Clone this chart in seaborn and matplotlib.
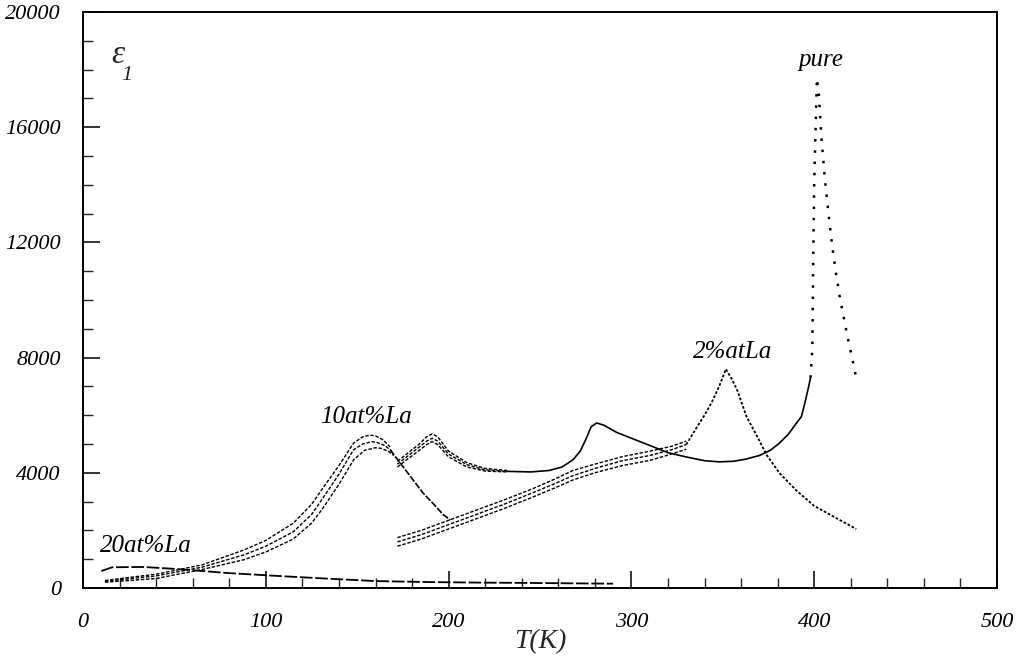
import matplotlib
matplotlib.use("Agg")
import matplotlib.pyplot as plt
import seaborn as sns
from matplotlib.ticker import MultipleLocator

sns.set_theme(style="ticks")
plt.rcParams["font.family"] = ["Liberation Serif", "DejaVu Serif"]
plt.rcParams["font.style"] = "italic"

# ---- 10 at% La : three measuring frequencies, merging after the peak ----
t10_a = [12, 40, 65, 88, 100, 115, 125, 131, 140, 148, 153, 157, 160, 164, 168]
e10_a = [260, 480, 800, 1320, 1650, 2250, 2900, 3450, 4250, 5030, 5250, 5310, 5280, 5150, 4900]
t10_b = [12, 40, 65, 88, 100, 115, 125, 131, 140, 148, 153, 158, 161, 165, 169]
e10_b = [230, 420, 720, 1150, 1450, 1950, 2550, 3100, 3950, 4800, 5000, 5080, 5050, 4950, 4750]
t10_c = [12, 40, 65, 88, 100, 115, 125, 131, 140, 148, 154, 160, 163, 167, 170]
e10_c = [200, 330, 640, 980, 1250, 1700, 2250, 2750, 3600, 4450, 4780, 4870, 4850, 4750, 4600]
t10_tail = [168, 174, 180, 186, 192, 197, 201]
e10_tail = [4800, 4300, 3800, 3300, 2900, 2550, 2360]

# ---- pure : three frequencies at low T, then a single curve ----
tp_a = [172, 178, 184, 188, 191, 194, 200, 210, 220, 232]
ep_a = [4400, 4700, 5000, 5250, 5350, 5250, 4750, 4350, 4150, 4080]
tp_b = [172, 178, 184, 188, 191, 194, 200, 210, 220, 232]
ep_b = [4300, 4600, 4900, 5100, 5200, 5100, 4650, 4280, 4100, 4050]
tp_c = [172, 178, 184, 188, 191, 194, 200, 210, 220, 232]
ep_c = [4200, 4500, 4780, 4980, 5080, 4980, 4550, 4200, 4060, 4030]
tp_main = [232, 245, 255, 262, 268, 272, 275, 278, 281, 285, 292, 300, 310, 320,
           330, 340, 348, 356, 363, 370, 376, 381, 386, 390, 393, 395, 397, 398]
ep_main = [4050, 4030, 4080, 4200, 4450, 4750, 5150, 5600, 5730, 5650, 5400, 5200,
           4950, 4700, 4550, 4420, 4380, 4400, 4480, 4600, 4780, 5030, 5350, 5700,
           5950, 6450, 7000, 7300]
tp_peak = [398, 399, 399.5, 400, 401, 401.5, 402.5, 404, 406, 408, 410, 412, 414,
           416, 418, 420, 423]
ep_peak = [7300, 8300, 11500, 14000, 16500, 17700, 17200, 15600, 14100, 12900,
           11800, 10900, 10100, 9450, 8800, 8200, 7300]

# ---- 2 at% La : three frequencies, merging near the peak ----
t2_a = [172, 185, 200, 215, 230, 245, 258, 268, 280, 295, 310, 322, 330]
e2_a = [1750, 2000, 2350, 2700, 3050, 3420, 3780, 4080, 4300, 4560, 4750, 4920, 5100]
t2_b = [172, 185, 200, 215, 230, 245, 258, 268, 280, 295, 310, 322, 330]
e2_b = [1600, 1850, 2200, 2550, 2900, 3280, 3620, 3900, 4150, 4420, 4600, 4800, 4980]
t2_c = [172, 185, 200, 215, 230, 245, 258, 268, 280, 295, 310, 322, 330]
e2_c = [1450, 1700, 2050, 2400, 2750, 3130, 3470, 3750, 4000, 4250, 4430, 4650, 4820]
t2_tail = [330, 335, 340, 344, 348, 351.7, 355, 358, 363, 369, 374, 381, 390, 400, 412, 423]
e2_tail = [4980, 5500, 6000, 6450, 7000, 7600, 7250, 6850, 5950, 5240, 4620, 3990,
           3400, 2850, 2430, 2050]

# ---- 20 at% La ----
t20 = [10, 16, 33, 51, 79, 106, 135, 160, 190, 220, 245, 270, 290]
e20 = [590, 720, 730, 660, 520, 420, 320, 240, 205, 185, 175, 160, 150]

x_ticks = [0, 100, 200, 300, 400, 500]
y_ticks = [0, 4000, 8000, 12000, 16000, 20000]

fig = plt.figure(figsize=(10.24, 6.62), dpi=100)
ax = fig.add_axes([0.0811, 0.1118, 0.8925, 0.8701])

ink = "black"
dash_fine = (0, (2.5, 1.2))
dot_sparse = (0, (1, 3.5))

def draw(t, e, style, lw=1.1):
    sns.lineplot(x=t, y=e, ax=ax, color=ink, linestyle=style, linewidth=lw,
                 sort=False, estimator=None)

for t, e in [(t10_a, e10_a), (t10_b, e10_b), (t10_c, e10_c)]:
    draw(t, e, dash_fine, 1.0)
draw(t10_tail, e10_tail, (0, (4, 1)), 1.2)

for t, e in [(tp_a, ep_a), (tp_b, ep_b), (tp_c, ep_c)]:
    draw(t, e, dash_fine, 1.0)
draw(tp_main, ep_main, "-", 1.2)
draw(tp_peak, ep_peak, dot_sparse, 1.8)

for t, e in [(t2_a, e2_a), (t2_b, e2_b), (t2_c, e2_c)]:
    draw(t, e, dash_fine, 1.0)
draw(t2_tail, e2_tail, (0, (1.5, 1)), 1.3)

draw(t20, e20, (0, (7, 1.5)), 1.3)

ax.set_xlim(0, 500)
ax.set_ylim(0, 20000)
ax.set_xticks(x_ticks)
ax.set_yticks(y_ticks)
ax.set_xticklabels([str(v) for v in x_ticks])
ax.set_yticklabels([str(v) for v in y_ticks])
ax.xaxis.set_minor_locator(MultipleLocator(20))
ax.yaxis.set_minor_locator(MultipleLocator(1000))
ax.tick_params(axis="both", which="major", direction="in", length=12, width=1.1,
               labelsize=16, colors=ink)
ax.tick_params(axis="both", which="minor", direction="in", length=7, width=1.0)
ax.tick_params(axis="x", which="major", pad=18)
ax.tick_params(axis="y", which="major", pad=16)
for lab in ax.get_xticklabels() + ax.get_yticklabels():
    lab.set_fontstyle("italic")

for side in ["left", "right", "top", "bottom"]:
    ax.spines[side].set_visible(True)
    ax.spines[side].set_color(ink)
    ax.spines[side].set_linewidth(1.4)

ax.set_xlabel("T(K)", fontsize=20, fontstyle="italic", labelpad=-2)
ax.set_ylabel("")

ann = dict(fontsize=18, fontstyle="italic", ha="center", va="center", color=ink)
ax.text(403.7, 18330, "pure", **ann)
ax.text(355.6, 8190, "2%atLa", **ann)
ax.text(154.8, 5940, "10at%La", **ann)
ax.text(34.2, 1460, "20at%La", **ann)
ax.text(19.1, 18500, "ε", fontsize=24, fontstyle="italic", ha="center", va="center")
ax.text(24.0, 17800, "1", fontsize=16, fontstyle="italic", ha="center", va="center")

ax.set_facecolor("white")
fig.patch.set_facecolor("white")
fig.savefig("out.png", dpi=100)
